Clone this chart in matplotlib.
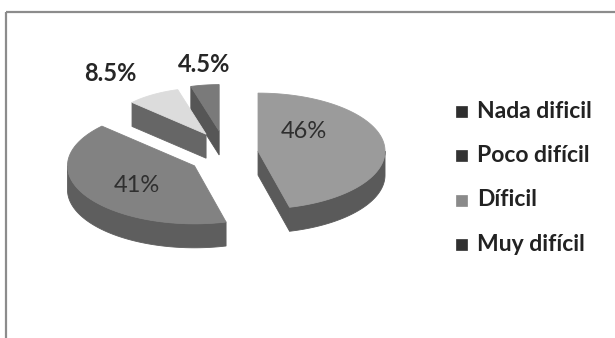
import numpy as np
import matplotlib
matplotlib.use("Agg")
import matplotlib.pyplot as plt
from matplotlib.patches import Polygon, Rectangle

# ---- data -------------------------------------------------------------
categories = ["Nada dificil", "Poco difícil", "Díficil", "Muy difícil"]
values = [46, 41, 8.5, 4.5]
value_labels = ["46%", "41%", "8.5%", "4.5%"]

# ---- style ------------------------------------------------------------
top_colors = ["#9b9b9b", "#828282", "#dcdcdc", "#7a7a7a"]
side_colors = ["#5a5a5a", "#5e5e5e", "#666666", "#565656"]
legend_colors = ["#2e2e2e", "#333333", "#8a8a8a", "#303030"]
FONT = ["Lato", "DejaVu Sans"]

W, H = 615, 338
CX, CY = 224, 154          # pie centre (pixels)
RX, RY = 127, 58           # ellipse radii of the tilted pie
DEPTH = 24                 # thickness of the 3-D pie
EXPLODE = 0.27
EXPLODE_RY = 86            # vertical travel of an exploded slice per unit
slice_scale = [1.0, 1.0, 0.8, 0.8]   # far slices drawn smaller (perspective)
label_r = [0.36, 0.53, 1.8, 1.05]
label_dy = [-17, 4, 11, -18]

fig = plt.figure(figsize=(W / 100, H / 100), dpi=100)
ax = fig.add_axes([0, 0, 1, 1])
ax.set_xlim(0, W)
ax.set_ylim(H, 0)
ax.axis("off")

# chart frame (top and left borders)
ax.plot([6, W], [12, 12], color="#8c8c8c", lw=1.6, solid_capstyle="butt")
ax.plot([6, 6], [12, H], color="#8c8c8c", lw=1.6, solid_capstyle="butt")

total = float(sum(values))
bounds = np.concatenate([[0], np.cumsum(values)]) * 360.0 / total


def pt(apex, s, theta_deg, dz=0.0):
    t = np.radians(theta_deg)
    return (apex[0] + s * RX * np.sin(t), apex[1] - s * RY * np.cos(t) + dz)


def arc(apex, s, t0, t1, dz=0.0, n=80):
    th = np.linspace(t0, t1, n)
    return [pt(apex, s, t, dz) for t in th]


slices = []
for i, v in enumerate(values):
    a0, a1 = bounds[i], bounds[i + 1]
    mid = np.radians((a0 + a1) / 2)
    apex = (CX + EXPLODE * RX * np.sin(mid), CY - EXPLODE * EXPLODE_RY * np.cos(mid))
    slices.append((i, a0, a1, mid, apex))

# paint from back to front
for i, a0, a1, mid, apex in sorted(slices, key=lambda s: s[4][1]):
    s = slice_scale[i]
    kw = dict(closed=True, lw=0.6, zorder=2)
    # radial side faces facing the viewer
    for a, phi in ((a0, a0 - 90), (a1, a1 + 90)):
        if np.cos(np.radians(phi)) < -1e-6:
            p = pt(apex, s, a)
            quad = [apex, p, (p[0], p[1] + DEPTH), (apex[0], apex[1] + DEPTH)]
            ax.add_patch(Polygon(quad, fc=side_colors[i], ec=side_colors[i], **kw))
    # curved outer wall on the near half of the ellipse
    lo, hi = max(a0, 90), min(a1, 270)
    if hi > lo:
        wall = arc(apex, s, lo, hi) + arc(apex, s, hi, lo, dz=DEPTH)
        ax.add_patch(Polygon(wall, fc=side_colors[i], ec=side_colors[i], **kw))
    # top face
    face = [apex] + arc(apex, s, a0, a1)
    ax.add_patch(Polygon(face, fc=top_colors[i], ec=top_colors[i], **kw))

    # value label
    lx = apex[0] + label_r[i] * s * RX * np.sin(mid)
    ly = apex[1] - label_r[i] * s * RY * np.cos(mid) + label_dy[i]
    inside = label_r[i] < 1
    ax.text(lx, ly, value_labels[i], ha="center", va="center",
            fontsize=17, family=FONT,
            fontweight="normal" if inside else "bold",
            color="#2f2f2f" if inside else "#262626", zorder=5)

# legend
leg_x, leg_y0, leg_dy = 456, 111, 44.5
for i, name in enumerate(categories):
    y = leg_y0 + i * leg_dy
    ax.add_patch(Rectangle((leg_x, y - 5.5), 11, 11, fc=legend_colors[i],
                           ec=legend_colors[i], lw=0.5, zorder=3))
    ax.text(leg_x + 21, y, name, ha="left", va="center", fontsize=16.5,
            family=FONT, fontweight="bold", color="#222222", zorder=3)

fig.savefig("out.png", dpi=100)
